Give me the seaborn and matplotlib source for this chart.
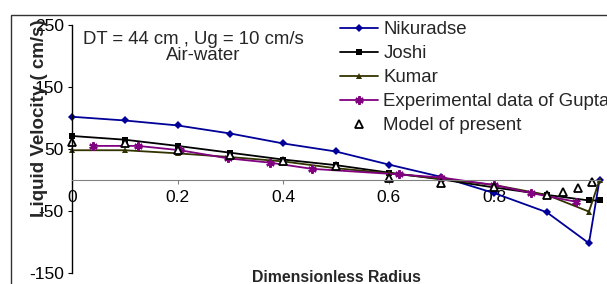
import matplotlib
matplotlib.use("Agg")
import matplotlib.pyplot as plt
import seaborn as sns
from matplotlib.patches import Rectangle

# Radial liquid velocity profiles, DT = 44 cm, Ug = 10 cm/s (air-water)
r_model = [0.0, 0.1, 0.2, 0.3, 0.4, 0.5, 0.6, 0.7, 0.8, 0.9, 0.98, 1.0]
nikuradse = [102, 96, 88, 75, 59, 46, 25, 5, -21, -52, -102, 0]
joshi = [71, 65, 55, 44, 33, 24, 12, 1, -12, -24, -33, -33]
kumar = [48, 48, 43, 37, 30, 19, 11, 2, -8, -24, -51, 0]

r_gupta = [0.04, 0.125, 0.205, 0.295, 0.375, 0.455, 0.62, 0.70, 0.80, 0.87, 0.955]
gupta = [55, 55, 48, 35, 28, 18, 9, 4, -8, -21, -35]

r_present = [0.0, 0.1, 0.2, 0.3, 0.4, 0.5, 0.6, 0.7, 0.8, 0.9, 0.93, 0.96, 0.985]
present = [61, 60, 48, 40, 31, 22, 4, -5, -12, -24, -20, -13, -3]

y_ticks = [-150, -50, 50, 150, 250]
x_ticks = [0, 0.2, 0.4, 0.6, 0.8]
x_ticklabels = ['0', '0.2', '0.4', '0.6', '0.8']

sns.set_style("white")
plt.rcParams['font.family'] = ['Liberation Sans', 'DejaVu Sans']
plt.rcParams['axes.unicode_minus'] = False

W, H = 607, 284
fig = plt.figure(figsize=(W / 100, H / 100), dpi=100)
ax = fig.add_axes([72 / W, (H - 273) / H, 527.5 / W, 248 / H])

# outer chart border (cropped on the right and bottom)
fig.patches.append(Rectangle((11 / W, -0.1), 1.2, (H - 15) / H + 0.1,
                             transform=fig.transFigure, fill=False,
                             edgecolor='#333333', lw=1.0))

sns.lineplot(x=r_model, y=nikuradse, ax=ax, color='#000099', marker='D',
             markersize=5, markeredgewidth=0, lw=1.3, sort=False,
             estimator=None, label='Nikuradse', clip_on=False)
sns.lineplot(x=r_model, y=joshi, ax=ax, color='black', marker='s',
             markersize=6, markeredgewidth=0, lw=1.3, sort=False,
             estimator=None, label='Joshi', clip_on=False)
sns.lineplot(x=r_model, y=kumar, ax=ax, color='#333300', marker='^',
             markersize=6.5, markeredgewidth=0, lw=1.3, sort=False,
             estimator=None, label='Kumar', clip_on=False)
ax.plot(r_gupta, gupta, color='#800080', ls='-', lw=1.3, marker=(6, 2, 0),
        markersize=8, markeredgewidth=1.6, label='Experimental data of Gupta',
        clip_on=False)
ax.plot(r_present, present, ls='none', marker='^', markersize=8,
        markerfacecolor='white', markeredgecolor='black', markeredgewidth=1.3,
        label='Model of present', clip_on=False)

ax.set_xlim(0, 1.0)
ax.set_ylim(-150, 250)
ax.set_yticks(y_ticks)
ax.set_xticks(x_ticks)
ax.set_xticklabels(x_ticklabels)

for s in ['top', 'right']:
    ax.spines[s].set_visible(False)
ax.spines['bottom'].set_position(('data', 0))
ax.spines['bottom'].set_color('#808080')
ax.spines['left'].set_color('black')
ax.spines['left'].set_linewidth(1.0)
ax.tick_params(axis='both', direction='out', length=3, width=0.8,
               labelsize=12.5, pad=3, colors='black')
ax.tick_params(axis='x', color='#808080', labelcolor='black', bottom=True, pad=4.5)
ax.tick_params(axis='y', left=True)

ax.set_xlabel('Dimensionless Radius', fontsize=11.4, fontweight='bold')
ax.xaxis.set_label_coords(0.502, -0.019)
ax.xaxis.label.set_va('center')
ax.set_ylabel('Liquid Velocity ( cm/s)', fontsize=13.5, fontweight='bold')
ax.yaxis.set_label_coords(-0.061, 0.625)
ax.yaxis.label.set_va('center')

fig.text(83 / W, 1 - 40 / H, 'DT = 44 cm , Ug = 10 cm/s', fontsize=13.4,
         ha='left', va='center')
fig.text(203 / W, 1 - 56 / H, 'Air-water', fontsize=13.4, ha='center',
         va='center')

handles, labels = ax.get_legend_handles_labels()
for h in handles[:3]:
    h.set_markersize(4)
handles[3].set_markersize(6)
handles[4].set_markersize(5.5)
ax.legend(handles, labels, loc='upper left', bbox_to_anchor=(340 / W, 1 - 21 / H),
          bbox_transform=fig.transFigure, frameon=False, fontsize=13.4,
          borderpad=0, borderaxespad=0, handlelength=2.05, handletextpad=0.27,
          labelspacing=0.38)

fig.savefig('out.png', dpi=100)
